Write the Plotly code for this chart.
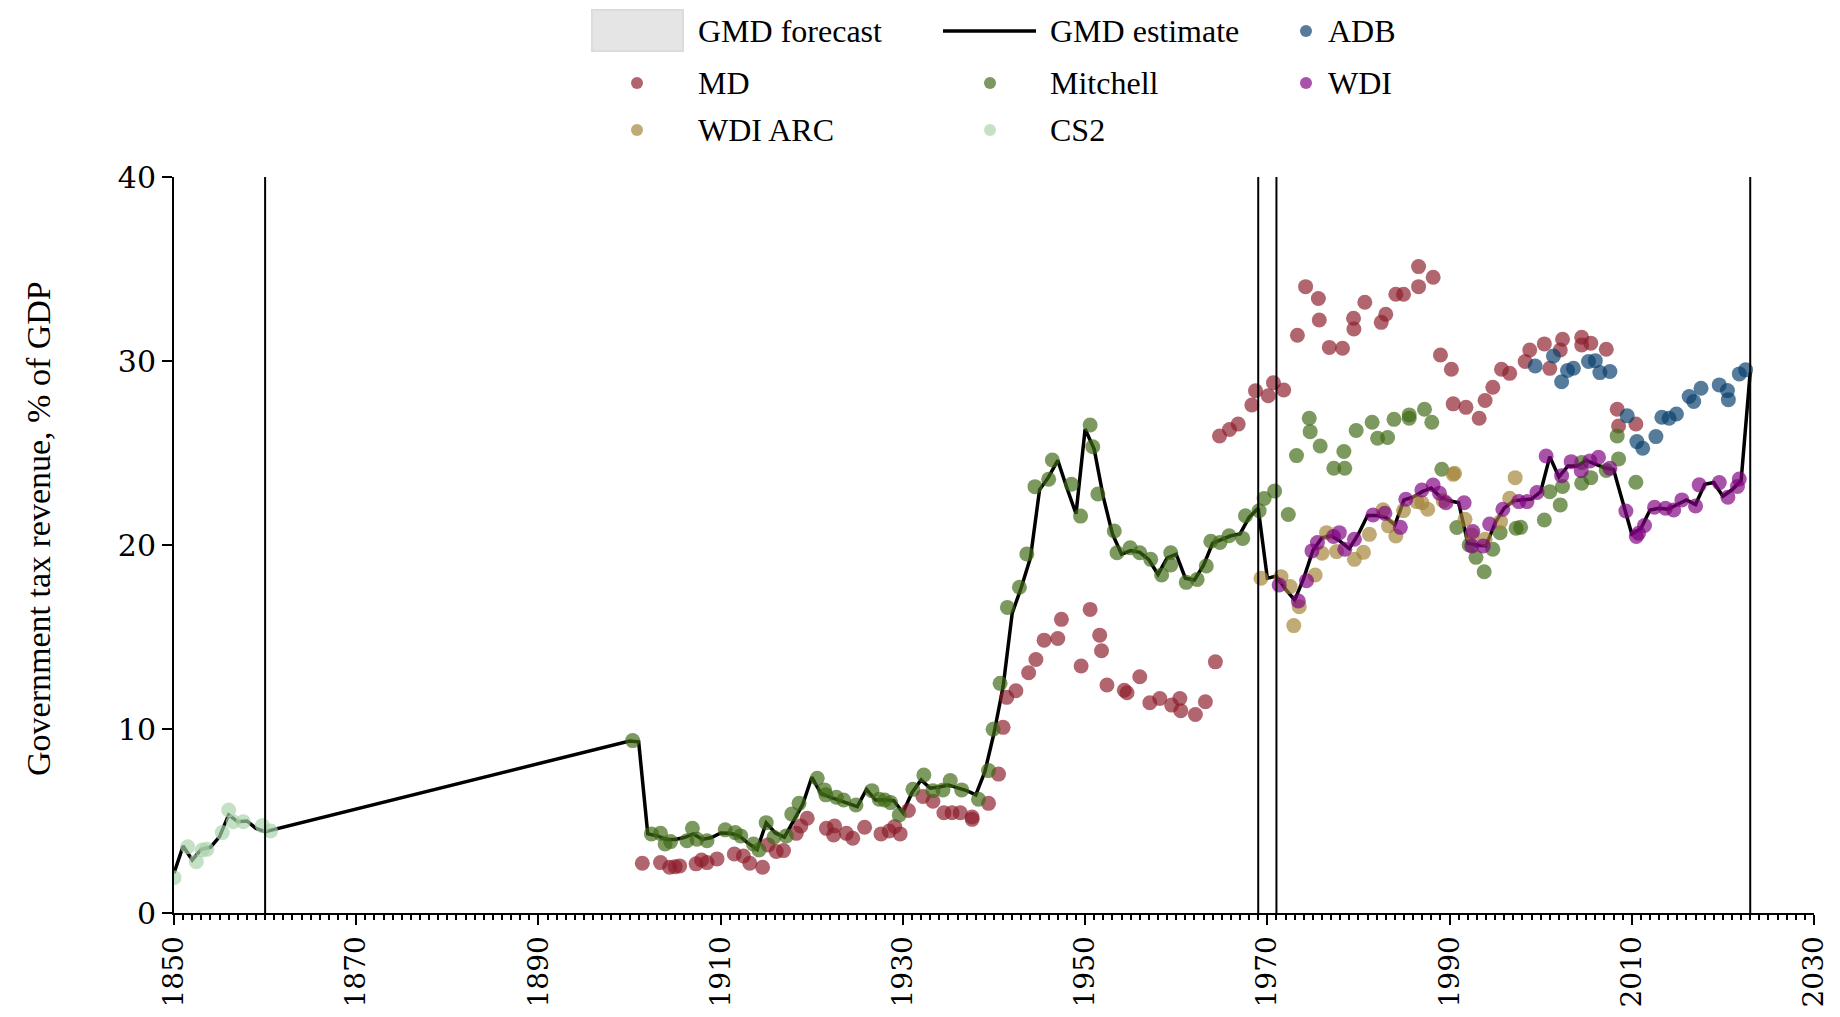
import plotly.graph_objects as go

# GMD estimate (black line)
gmd_years = [1850, 1851, 1852, 1853, 1854, 1855, 1856, 1857, 1858, 1859, 1860,
             1900, 1901, 1902, 1903, 1904, 1905, 1906, 1907, 1908, 1909,
             1910, 1911, 1912, 1913, 1914, 1915, 1916, 1917, 1918, 1919,
             1920, 1921, 1922, 1923, 1924, 1925, 1926, 1927, 1928, 1929,
             1930, 1931, 1932, 1933, 1934, 1935, 1936, 1937, 1938, 1939,
             1940, 1941, 1942, 1943, 1944, 1945, 1946, 1947, 1948, 1949,
             1950, 1951, 1952, 1953, 1954, 1955, 1956, 1957, 1958, 1959,
             1960, 1961, 1962, 1963, 1964, 1965, 1966, 1967, 1968, 1969,
             1970, 1971, 1972, 1973, 1974, 1975, 1976, 1977, 1978, 1979,
             1980, 1981, 1982, 1983, 1984, 1985, 1986, 1987, 1988, 1989,
             1990, 1991, 1992, 1993, 1994, 1995, 1996, 1997, 1998, 1999,
             2000, 2001, 2002, 2003, 2004, 2005, 2006, 2007, 2008, 2009,
             2010, 2011, 2012, 2013, 2014, 2015, 2016, 2017, 2018, 2019,
             2020, 2021, 2022, 2023]
gmd_values = [2.16, 3.64, 2.88, 3.46, 3.57, 4.15, 5.33, 4.96, 5.0, 4.6, 4.42,
              9.35, 9.3, 4.3, 4.2, 4.0, 4.0, 4.1, 4.3, 4.0, 4.1,
              4.35, 4.33, 4.2, 3.8, 3.45, 4.9, 4.35, 4.12, 5.0, 5.9,
              7.38, 6.5, 6.3, 6.14, 5.95, 5.78, 6.72, 6.14, 6.15, 6.1,
              5.46, 6.54, 7.23, 6.78, 6.85, 6.96, 6.8, 6.65, 6.42, 7.68,
              9.77, 12.3, 16.3, 17.7, 19.3, 23.0, 23.7, 24.6, 23.1, 21.7,
              26.3, 25.2, 22.6, 20.6, 19.5, 19.7, 19.6, 19.2, 18.4, 19.3,
              19.5, 18.2, 18.1, 18.9, 20.1, 20.3, 20.5, 20.6, 21.5, 22.0,
              18.2, 18.3, 17.6, 17.0, 18.2, 19.7, 20.4, 20.5, 20.2, 19.8,
              20.6, 21.6, 21.6, 21.5, 21.1, 22.45, 22.6, 22.9, 23.1, 22.6,
              22.4, 22.3, 20.1, 20.0, 19.95, 21.2, 22.0, 22.4, 22.45, 22.5,
              22.9, 24.8, 23.7, 24.3, 24.3, 24.6, 24.4, 24.2, 24.1, 22.3,
              20.6, 20.9, 21.9, 22.0, 21.95, 22.2, 22.45, 22.2, 23.3, 23.4,
              22.65, 23.0, 23.5, 29.4]

# source series
md_years = [1901.4, 1903.4, 1904.4, 1905.0, 1905.5, 1907.3, 1907.9, 1908.5, 1909.6,
            1911.5, 1912.5, 1913.2, 1914.6, 1915.2, 1916.1, 1916.9, 1918.3, 1918.8,
            1919.5, 1921.6, 1922.5, 1922.4, 1923.8, 1924.5, 1925.8, 1927.6, 1928.5,
            1929.1, 1929.7, 1930.6, 1932.2, 1933.3, 1934.5, 1935.4, 1936.3, 1937.6,
            1937.6, 1939.4, 1940.5, 1941.0, 1941.4, 1942.4, 1943.8, 1944.6, 1945.5,
            1947.0, 1947.4, 1949.56, 1950.55, 1951.6, 1951.8, 1952.4, 1954.3, 1954.6,
            1956.0, 1957.1, 1958.2, 1959.5, 1960.4, 1960.5, 1962.1, 1963.2, 1964.3,
            1964.75, 1965.85, 1966.8, 1968.3, 1968.7, 1970.1, 1970.67, 1971.8, 1973.3,
            1974.2, 1975.6, 1975.7, 1976.8, 1978.25, 1979.46, 1979.5, 1980.7, 1982.5,
            1983.0, 1984.1, 1984.95, 1986.6, 1986.6, 1988.2, 1989.0, 1990.2, 1990.4,
            1991.8, 1993.25, 1993.9, 1994.75, 1995.7, 1996.6, 1998.3, 1998.8, 2000.4,
            2001.0, 2002.15, 2002.4, 2004.5, 2004.5, 2005.5, 2007.2, 2008.4, 2008.55,
            2010.45]
md_values = [2.7, 2.74, 2.49, 2.52, 2.56, 2.67, 2.88, 2.74, 2.94,
             3.21, 3.1, 2.7, 2.49, 3.7, 3.34, 3.39, 4.33, 4.73,
             5.15, 4.6, 4.73, 4.24, 4.33, 4.06, 4.66, 4.3, 4.46,
             4.7, 4.3, 5.57, 6.33, 6.07, 5.45, 5.45, 5.45, 5.22,
             5.09, 5.96, 7.55, 10.09, 11.72, 12.08, 13.06, 13.78, 14.83,
             14.92, 15.96, 13.42, 16.5, 15.1, 14.25, 12.39, 12.11, 11.97,
             12.84, 11.43, 11.66, 11.3, 11.66, 10.99, 10.79, 11.48, 13.65,
             25.92, 26.28, 26.57, 27.61, 28.38, 28.11, 28.82, 28.42, 31.4,
             34.04, 33.4, 32.23, 30.74, 30.69, 32.32, 31.74, 33.19, 32.1,
             32.54, 33.63, 33.63, 34.04, 35.13, 34.55, 30.33, 29.55, 27.67,
             27.48, 26.89, 27.85, 28.57, 29.55, 29.33, 29.97, 30.6, 30.93,
             29.6, 30.6, 31.18, 31.29, 30.87, 30.97, 30.64, 27.38, 26.47,
             26.58]

mitchell_years = [1900.34, 1902.4, 1903.4, 1903.9, 1904.5, 1906.3, 1906.9, 1907.4, 1908.5,
                  1910.5, 1911.6, 1912.2, 1913.6, 1914.2, 1915.0, 1915.85, 1917.2, 1917.8,
                  1918.6, 1920.6, 1921.4, 1921.55, 1922.7, 1923.5, 1924.85, 1926.6, 1927.4,
                  1928.0, 1928.65, 1929.6, 1931.1, 1932.3, 1933.3, 1934.4, 1935.2, 1936.45,
                  1938.3, 1939.4, 1939.9, 1940.67, 1941.47, 1942.79, 1943.6, 1944.5, 1946.0,
                  1946.4, 1948.5, 1949.5, 1950.55, 1950.84, 1951.4, 1953.2, 1953.5, 1954.94,
                  1956.0, 1957.2, 1958.4, 1959.4, 1959.4, 1961.1, 1962.3, 1963.3, 1963.8,
                  1964.8, 1965.8, 1967.3, 1967.6, 1969.1, 1969.65, 1970.8, 1972.3, 1973.2,
                  1974.6, 1974.7, 1975.8, 1977.3, 1978.5, 1978.4, 1979.75, 1981.5, 1982.1,
                  1983.2, 1983.9, 1985.57, 1985.57, 1987.25, 1988.05, 1989.15, 1990.8, 1992.15,
                  1992.9, 1993.8, 1994.75, 1995.55, 1997.3, 1997.8, 2000.4, 2001.0, 2002.15,
                  2002.4, 2004.5, 2004.5, 2005.5, 2007.2, 2008.4, 2008.55, 2010.45]
mitchell_values = [9.37, 4.3, 4.33, 3.75, 3.88, 3.93, 4.6, 4.01, 3.93,
                   4.52, 4.37, 4.19, 3.75, 3.43, 4.91, 4.12, 4.19, 5.38,
                   5.96, 7.32, 6.69, 6.42, 6.29, 6.14, 5.87, 6.65, 6.18,
                   6.14, 6.0, 5.33, 6.72, 7.5, 6.65, 6.69, 7.2, 6.69,
                   6.18, 7.74, 9.99, 12.48, 16.61, 17.7, 19.51, 23.17, 23.57,
                   24.62, 23.3, 21.57, 26.52, 25.34, 22.77, 20.76, 19.58, 19.85,
                   19.58, 19.22, 18.37, 19.58, 18.91, 17.97, 18.13, 18.86, 20.2,
                   20.14, 20.5, 20.36, 21.59, 21.86, 22.53, 22.93, 21.66, 24.86,
                   26.89, 26.16, 25.38, 24.17, 24.17, 25.08, 26.22, 26.67, 25.8,
                   25.84, 26.83, 27.07, 26.89, 27.38, 26.67, 24.12, 20.95, 20.0,
                   19.33, 18.55, 19.77, 20.67, 20.91, 20.96, 21.36, 22.9, 22.18,
                   23.18, 23.36, 24.48, 23.66, 24.05, 25.93, 24.68, 23.41]

wdi_arc_years = [1969.3, 1971.5, 1972.5, 1973.5, 1972.9, 1975.25, 1976.0, 1976.5, 1977.6,
                 1979.56, 1980.55, 1981.2, 1982.7, 1983.3, 1984.1, 1984.95, 1986.4, 1986.96,
                 1987.6, 1989.3, 1990.4, 1990.55, 1991.7, 1992.45, 1993.9, 1995.6, 1996.6,
                 1997.2]
wdi_arc_values = [18.19, 18.28, 17.74, 16.65, 15.62, 18.37, 19.55, 20.67, 19.64,
                  19.22, 19.6, 20.58, 21.91, 21.04, 20.49, 21.87, 22.36, 22.3,
                  21.94, 22.41, 23.84, 23.9, 21.4, 20.55, 20.31, 21.27, 22.54,
                  23.66]

wdi_years = [1971.3, 1973.4, 1974.3, 1974.9, 1975.5, 1977.26, 1977.9, 1978.5, 1979.56,
             1981.6, 1982.9, 1984.6, 1985.2, 1986.96, 1988.2, 1988.9, 1989.6, 1991.6,
             1992.55, 1992.45, 1993.7, 1994.4, 1995.85, 1997.6, 1998.5, 1999.6, 2000.6,
             2002.3, 2003.35, 2004.45, 2005.4, 2006.35, 2007.6, 2009.35, 2010.5, 2010.75,
             2011.4, 2012.5, 2013.7, 2014.6, 2015.5, 2017.0, 2017.4, 2019.6, 2020.55,
             2021.6, 2021.8]
wdi_values = [17.83, 16.96, 18.06, 19.68, 20.13, 20.46, 20.67, 19.77, 20.31,
              21.63, 21.72, 20.96, 22.49, 22.99, 23.26, 22.81, 22.3, 22.3,
              20.73, 19.95, 19.95, 21.14, 21.94, 22.36, 22.36, 22.85, 24.84,
              23.77, 24.53, 24.04, 24.57, 24.77, 24.17, 21.85, 20.46, 20.64,
              21.06, 22.05, 22.0, 21.9, 22.45, 22.12, 23.27, 23.39, 22.6,
              23.18, 23.59]

adb_years = [1999.4, 2001.4, 2002.3, 2002.95, 2003.6, 2005.25, 2006.0, 2006.5, 2007.6,
             2009.5, 2010.56, 2011.2, 2012.65, 2013.3, 2014.1, 2014.9, 2016.3, 2016.8,
             2017.6, 2019.6, 2020.5, 2020.6, 2021.8, 2022.5]
adb_values = [29.73, 30.27, 28.87, 29.48, 29.61, 29.97, 30.02, 29.37, 29.43,
              27.02, 25.62, 25.26, 25.89, 26.94, 26.89, 27.12, 28.07, 27.8,
              28.52, 28.7, 28.39, 27.9, 29.3, 29.52]

cs2_years = [1850.0, 1851.5, 1852.45, 1853.1, 1853.6, 1855.3, 1856.0, 1856.5, 1857.6,
             1859.7, 1860.6]
cs2_values = [1.92, 3.6, 2.79, 3.42, 3.46, 4.37, 5.6, 4.96, 4.96, 4.75, 4.46]

# vertical break lines
break_years = [1860, 1969, 1971, 2023]

# the page body keeps its default 8px margin, so the figure is 16px smaller
PAD = 8
W, H = 1840 - 2 * PAD, 1017 - 2 * PAD
L, R, T, B = 174 - PAD, 26 - PAD, 177 - PAD, 104 - PAD
serif = "Liberation Serif, Times New Roman, serif"


def px(x):
    # screen pixel -> paper x
    return (x - PAD - L) / (W - L - R)


def py(y):
    # screen pixel -> paper y
    return (H - B - (y - PAD)) / (H - T - B)


series = [
    ("MD", md_years, md_values, "#8c1c2b"),
    ("Mitchell", mitchell_years, mitchell_values, "#3e6913"),
    ("WDI ARC", wdi_arc_years, wdi_arc_values, "#a28337"),
    ("WDI", wdi_years, wdi_values, "#800080"),
    ("ADB", adb_years, adb_values, "#083e6c"),
    ("CS2", cs2_years, cs2_values, "#a9d3a9"),
]
colors = {name: c for name, _, _, c in series}

fig = go.Figure()
fig.add_trace(go.Scatter(x=gmd_years, y=gmd_values, mode="lines", name="GMD estimate",
                         line=dict(color="black", width=3.5), showlegend=False))
for name, xs, ys, c in series:
    fig.add_trace(go.Scatter(x=xs, y=ys, mode="markers", name=name, showlegend=False,
                             marker=dict(color=c, size=15, opacity=0.68, line=dict(width=0))))

for yr in break_years:
    fig.add_shape(type="line", x0=yr, x1=yr, y0=0, y1=40, xref="x", yref="y",
                  line=dict(color="black", width=2))

# hand-made legend in three columns above the plot
col_sym = [637, 990, 1306]
col_txt = [696, 1048, 1326]
row_y = [31, 83, 130]
legend_items = [
    (0, 0, "GMD forecast", "rect"), (0, 1, "GMD estimate", "line"), (0, 2, "ADB", "dot"),
    (1, 0, "MD", "dot"), (1, 1, "Mitchell", "dot"), (1, 2, "WDI", "dot"),
    (2, 0, "WDI ARC", "dot"), (2, 1, "CS2", "dot"),
]
for r, c, label, kind in legend_items:
    cy = row_y[r]
    if kind == "rect":
        fig.add_shape(type="rect", xref="paper", yref="paper",
                      x0=px(592), x1=px(683), y0=py(51), y1=py(10),
                      fillcolor="#e5e5e5", line=dict(color="#dcdcdc", width=2))
    elif kind == "line":
        fig.add_shape(type="line", xref="paper", yref="paper",
                      x0=px(943), x1=px(1036), y0=py(cy), y1=py(cy),
                      line=dict(color="black", width=3.5))
    else:
        fig.add_shape(type="circle", xref="paper", yref="paper",
                      xsizemode="pixel", ysizemode="pixel",
                      xanchor=px(col_sym[c]), yanchor=py(cy),
                      x0=-6, x1=6, y0=-6, y1=6,
                      fillcolor=colors[label], opacity=0.68, line=dict(width=0))
    fig.add_annotation(x=px(col_txt[c]), y=py(cy), xref="paper", yref="paper",
                       text=label, showarrow=False, xanchor="left", yanchor="middle",
                       font=dict(family=serif, size=32, color="black"))

# y axis title, sitting a little above the axis middle as in the original
fig.add_annotation(x=px(38), y=py(529), xref="paper", yref="paper",
                   text="Government tax revenue, % of GDP", textangle=-90, showarrow=False,
                   xanchor="center", yanchor="middle",
                   font=dict(family=serif, size=34, color="black"))

fig.update_xaxes(range=[1850, 2030], tickvals=list(range(1850, 2031, 20)), tickangle=-90,
                 ticks="outside", ticklen=10, tickwidth=2, tickcolor="black",
                 minor=dict(dtick=1, ticks="outside", ticklen=5, tickwidth=1.5, tickcolor="black"),
                 showline=True, linewidth=2, linecolor="black", showgrid=False, zeroline=False,
                 tickfont=dict(family="DejaVu Serif, serif", size=28, color="black"))
fig.update_yaxes(range=[0, 40], tickvals=[0, 10, 20, 30, 40],
                 ticks="outside", ticklen=10, tickwidth=2, tickcolor="black",
                 showline=True, linewidth=2, linecolor="black", showgrid=False, zeroline=False,
                 tickfont=dict(family="DejaVu Serif, serif", size=30, color="black"))

fig.update_layout(width=W, height=H, margin=dict(l=L, r=R, t=T, b=B, autoexpand=False),
                  plot_bgcolor="white", paper_bgcolor="white", font=dict(family=serif))

fig.write_html("out.html")
